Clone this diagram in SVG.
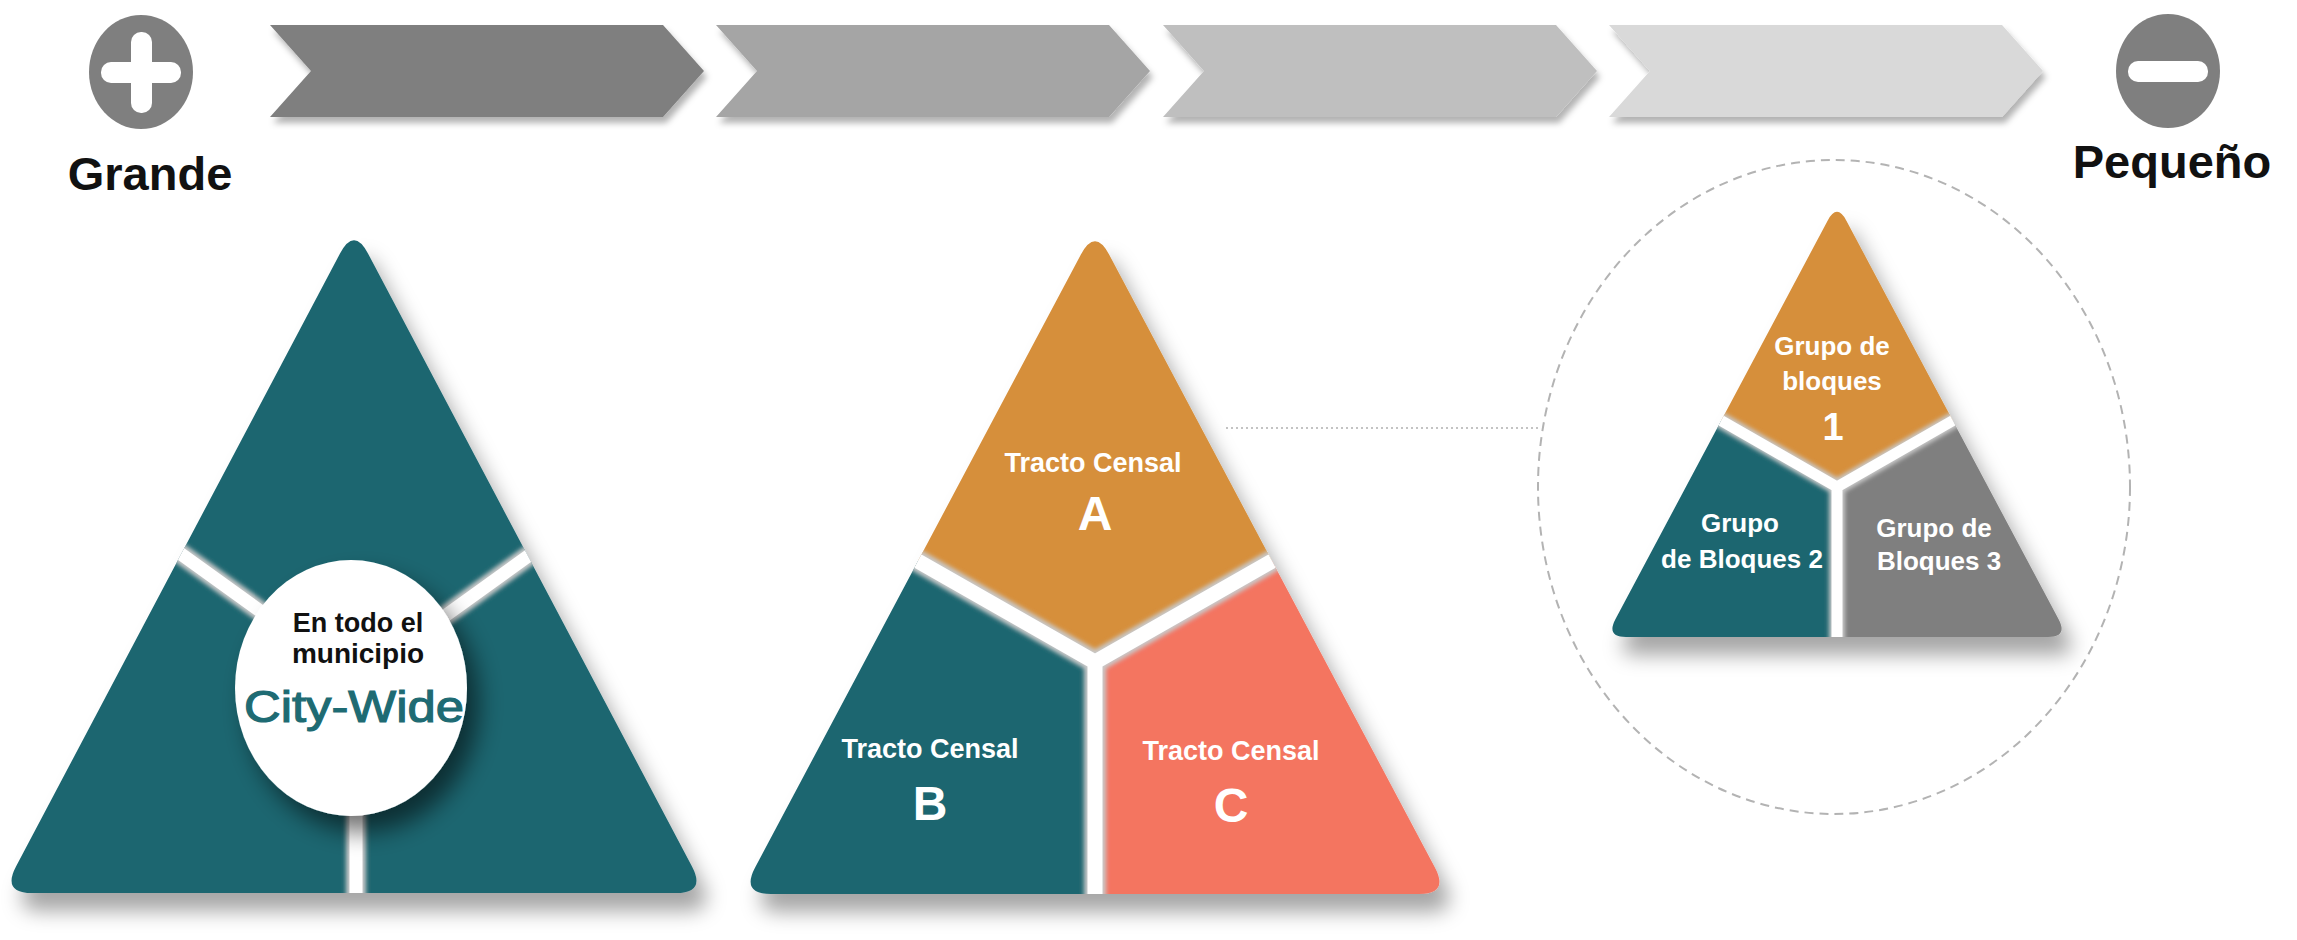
<svg xmlns="http://www.w3.org/2000/svg" width="2297" height="940" viewBox="0 0 2297 940">
  <defs>
    <style>
      .lbl { font-family: "Liberation Sans", Arial, sans-serif; font-weight: bold; text-anchor: middle; }
      .white { fill: #ffffff; }
      .big { font-size: 47px; fill: #111111; }
      .t27 { font-size: 27px; }
      .t48 { font-size: 48px; }
      .gap { fill: none; stroke: #ffffff; stroke-linecap: butt; stroke-linejoin: miter; }
      .gapsh { fill: none; stroke: #c9c9c9; stroke-linecap: butt; stroke-linejoin: miter; }
      .teal { fill: #1E6670; }
      .orange { fill: #D68F3B; }
      .coral { fill: #F47461; }
      .grey { fill: #7F7F7F; }
    </style>
    <filter id="chevShadow" x="-5%" y="-20%" width="110%" height="160%">
      <feDropShadow dx="3" dy="6" stdDeviation="3" flood-color="#000" flood-opacity="0.3"/>
    </filter>
    <filter id="triShadow" x="-10%" y="-10%" width="125%" height="125%">
      <feDropShadow dx="10" dy="18" stdDeviation="10" flood-color="#000" flood-opacity="0.35"/>
    </filter>
    <filter id="circShadow" x="-30%" y="-30%" width="170%" height="170%">
      <feDropShadow dx="12" dy="16" stdDeviation="12" flood-color="#000" flood-opacity="0.55"/>
    </filter>
    <filter id="gapBlur" x="-10%" y="-10%" width="120%" height="120%">
      <feGaussianBlur stdDeviation="2"/>
    </filter>
    <clipPath id="clipT1">
      <path d="M340,253.5 Q354,227 368,253.5 L692,866.5 Q706,893 676,893 L32,893 Q2,893 16,866.5 Z"/>
    </clipPath>
    <clipPath id="clipT2">
      <path d="M1080.9,254.5 Q1095,228 1109.1,254.5 L1434.9,867.5 Q1449,894 1419,894 L771,894 Q741,894 755.1,867.5 Z"/>
    </clipPath>
    <clipPath id="clipT3">
      <path d="M1827.6,220.7 Q1837,203 1846.4,220.7 L2058.6,619.3 Q2068,637 2048,637 L1626,637 Q1606,637 1615.4,619.3 Z"/>
    </clipPath>
  </defs>

  <rect x="0" y="0" width="2297" height="940" fill="#ffffff"/>

  <!-- Scale header -->
  <g id="plus">
    <ellipse cx="141" cy="72" rx="52" ry="57" fill="#7F7F7F"/>
    <rect x="101" y="62" width="80" height="21" rx="10" fill="#ffffff"/>
    <rect x="131" y="32" width="21" height="81" rx="10" fill="#ffffff"/>
    <text class="lbl big" x="150" y="190">Grande</text>
  </g>
  <g id="minus">
    <ellipse cx="2168" cy="71" rx="52" ry="57" fill="#7F7F7F"/>
    <rect x="2128" y="61" width="80" height="21" rx="10" fill="#ffffff"/>
    <text class="lbl big" x="2172" y="178">Pequeño</text>
  </g>

  <g id="chevron1" filter="url(#chevShadow)">
    <path d="M270,25 L663,25 L704,71 L663,117 L270,117 L311,71 Z" fill="#7F7F7F"/>
  </g>
  <g id="chevron2" filter="url(#chevShadow)">
    <path d="M716,25 L1109,25 L1150,71 L1109,117 L716,117 L757,71 Z" fill="#A5A5A5"/>
  </g>
  <g id="chevron3" filter="url(#chevShadow)">
    <path d="M1163,25 L1556,25 L1597,71 L1556,117 L1163,117 L1204,71 Z" fill="#BFBFBF"/>
  </g>
  <g id="chevron4" filter="url(#chevShadow)">
    <path d="M1609,25 L2002,25 L2043,71 L2002,117 L1609,117 L1650,71 Z" fill="#D9D9D9"/>
  </g>

  <!-- Connectors -->
  <g id="connectors">
    <line x1="1226" y1="428" x2="1538" y2="428" stroke="#b0b0b0" stroke-width="1.5" stroke-dasharray="2 3"/>
    <ellipse cx="1834" cy="487" rx="296" ry="327" fill="none" stroke="#b3b3b3" stroke-width="2" stroke-dasharray="9 6"/>
  </g>

  <!-- Triangle 1: City-Wide -->
  <g id="citywide">
    <g filter="url(#triShadow)">
      <g clip-path="url(#clipT1)">
        <rect x="0" y="200" width="720" height="720" class="teal"/>
        <path class="gapsh" filter="url(#gapBlur)" stroke-width="20" d="M56,464 L356,680 L656,464 M356,680 L356,900"/>
        <path class="gap" stroke-width="13" d="M56,464 L356,680 L656,464 M356,680 L356,900"/>
      </g>
    </g>
    <ellipse cx="351" cy="688" rx="116" ry="128" fill="#ffffff" filter="url(#circShadow)"/>
    <text class="lbl" x="358" y="632" font-size="27" fill="#111111">En todo el</text>
    <text class="lbl" x="358" y="663" font-size="28" fill="#111111">municipio</text>
    <text x="354" y="722" font-family="Liberation Sans, Arial, sans-serif" font-size="45" text-anchor="middle" fill="#1E6B73" stroke="#1E6B73" stroke-width="1.2" textLength="220" lengthAdjust="spacingAndGlyphs">City-Wide</text>
  </g>

  <!-- Triangle 2: Tractos censales -->
  <g id="tractos">
    <g filter="url(#triShadow)">
      <g clip-path="url(#clipT2)">
        <path class="orange" d="M695,434 L1095,662 L1495,434 L1495,150 L695,150 Z"/>
        <path class="teal" d="M695,434 L1095,662 L1095,950 L600,950 L600,434 Z"/>
        <path class="coral" d="M1495,434 L1095,662 L1095,950 L1600,950 L1600,434 Z"/>
        <path class="gapsh" filter="url(#gapBlur)" stroke-width="22" d="M695,434 L1095,662 L1495,434 M1095,662 L1095,950"/>
        <path class="gap" stroke-width="15" d="M695,434 L1095,662 L1495,434 M1095,662 L1095,950"/>
      </g>
    </g>
  </g>
  <g id="tractoA">
    <text class="lbl white t27" x="1093" y="472">Tracto Censal</text>
    <text class="lbl white t48" x="1095" y="530">A</text>
  </g>
  <g id="tractoB">
    <text class="lbl white t27" x="930" y="758">Tracto Censal</text>
    <text class="lbl white t48" x="930" y="820">B</text>
  </g>
  <g id="tractoC">
    <text class="lbl white t27" x="1231" y="760">Tracto Censal</text>
    <text class="lbl white t48" x="1231" y="822">C</text>
  </g>

  <!-- Triangle 3: Grupos de bloques -->
  <g id="grupos">
    <g filter="url(#triShadow)">
      <g clip-path="url(#clipT3)">
        <path class="orange" d="M1577,338 L1837,487 L2097,338 L2097,180 L1577,180 Z"/>
        <path class="teal" d="M1577,338 L1837,487 L1837,660 L1570,660 L1570,338 Z"/>
        <path class="grey" d="M2097,338 L1837,487 L1837,660 L2100,660 L2100,338 Z"/>
        <path class="gapsh" filter="url(#gapBlur)" stroke-width="16" d="M1577,338 L1837,487 L2097,338 M1837,487 L1837,660"/>
        <path class="gap" stroke-width="11" d="M1577,338 L1837,487 L2097,338 M1837,487 L1837,660"/>
      </g>
    </g>
  </g>
  <g id="grupo1">
    <text class="lbl white" font-size="26" x="1832" y="355">Grupo de</text>
    <text class="lbl white" font-size="26" x="1832" y="390">bloques</text>
    <text class="lbl white" font-size="38" x="1833" y="440">1</text>
  </g>
  <g id="grupo2">
    <text class="lbl white" font-size="26" x="1740" y="532">Grupo</text>
    <text class="lbl white" font-size="26" x="1742" y="568">de Bloques 2</text>
  </g>
  <g id="grupo3">
    <text class="lbl white" font-size="26" x="1934" y="537">Grupo de</text>
    <text class="lbl white" font-size="26" x="1939" y="570">Bloques 3</text>
  </g>
</svg>
